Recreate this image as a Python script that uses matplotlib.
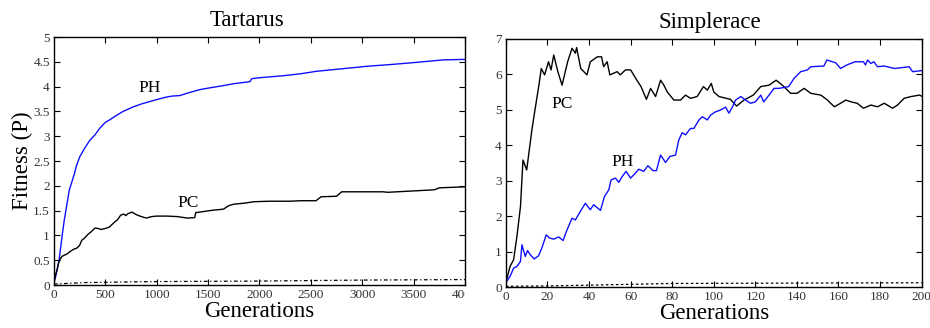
import numpy as np
import matplotlib.pyplot as plt
from matplotlib.ticker import FormatStrFormatter
from matplotlib.transforms import Bbox, TransformedBbox

plt.rcParams['font.family'] = ['Liberation Serif', 'DejaVu Serif']

# Tartarus data (generation, fitness)
tart_ph_gen = [0, 10, 20, 35, 50, 65, 80, 100, 120, 150, 170, 200, 217, 250, 299, 350, 400, 445,
               500, 542, 600, 672, 769, 850, 932, 1000, 1094, 1150, 1224, 1300, 1419, 1500, 1646,
               1750, 1906, 1925, 2000, 2231, 2400, 2555, 2800, 3042, 3300, 3529, 3789, 4000]
tart_ph_val = [0.05, 0.12, 0.2, 0.35, 0.5, 0.75, 1.0, 1.3, 1.55, 1.92, 2.05, 2.25, 2.39, 2.58, 2.76,
               2.92, 3.03, 3.16, 3.28, 3.33, 3.41, 3.5, 3.59, 3.65, 3.70, 3.74, 3.79, 3.81, 3.82,
               3.87, 3.94, 3.97, 4.02, 4.06, 4.10, 4.16, 4.18, 4.22, 4.26, 4.31, 4.36, 4.41, 4.45,
               4.49, 4.54, 4.55]

tart_pc_gen = [0, 15, 30, 45, 60, 80, 100, 130, 160, 200, 220, 250, 270, 300, 330, 360, 400, 430,
               460, 500, 540, 580, 620, 650, 680, 700, 720, 760, 800, 850, 900, 950, 1000, 1100,
               1200, 1300, 1370, 1380, 1450, 1550, 1650, 1700, 1750, 1850, 1950, 2100, 2300, 2400,
               2550, 2600, 2750, 2800, 3200, 3250, 3700, 3750, 4000]
tart_pc_val = [0.05, 0.2, 0.3, 0.45, 0.52, 0.58, 0.6, 0.63, 0.68, 0.73, 0.74, 0.8, 0.9, 0.95, 1.02,
               1.07, 1.15, 1.14, 1.12, 1.14, 1.17, 1.25, 1.32, 1.41, 1.43, 1.4, 1.44, 1.47, 1.42,
               1.38, 1.35, 1.38, 1.39, 1.39, 1.38, 1.35, 1.36, 1.46, 1.48, 1.51, 1.53, 1.6, 1.63,
               1.65, 1.68, 1.69, 1.69, 1.7, 1.7, 1.78, 1.79, 1.88, 1.88, 1.87, 1.92, 1.96, 1.98]

tart_rand_gen = [0, 300, 1000, 2000, 3000, 4000]
tart_rand_val = [0.02, 0.05, 0.07, 0.08, 0.1, 0.11]

# Simplerace data (generation, fitness)
simp_pc_gen = [0, 2, 3.7, 5.3, 7, 8.2, 10, 12.5, 14, 16, 17, 18.6, 20.5, 21.7, 23, 25, 27, 29.7,
               31.8, 33.4, 34, 36, 39, 40.6, 44, 46, 47, 48.7, 50, 53.5, 55, 57.5, 60, 63, 65,
               67.6, 69.6, 72, 74.4, 76, 77.6, 80.8, 84, 86.4, 88.8, 92, 95, 96.9, 98.8, 100,
               102.5, 108, 111, 114.5, 119, 122.6, 126.6, 130, 133, 137, 140, 143.5, 146.7, 151.5,
               154.7, 158, 161, 163.5, 166, 169, 172, 175.6, 178.8, 182, 186, 188.4, 191.6, 195,
               199, 200]
simp_pc_val = [0.13, 0.58, 0.77, 1.43, 2.27, 3.58, 3.3, 4.43, 5.0, 5.74, 6.16, 5.98, 6.35, 6.12,
               6.54, 6.07, 5.69, 6.35, 6.73, 6.59, 6.75, 6.16, 5.98, 6.35, 6.49, 6.49, 6.21, 6.35,
               5.98, 6.07, 5.98, 6.12, 6.12, 5.83, 5.65, 5.29, 5.6, 5.37, 5.83, 5.69, 5.5, 5.27,
               5.27, 5.41, 5.32, 5.37, 5.65, 5.55, 5.74, 5.5, 5.37, 5.29, 5.1, 5.27, 5.41, 5.65,
               5.69, 5.83, 5.69, 5.46, 5.46, 5.6, 5.46, 5.41, 5.27, 5.08, 5.18, 5.27, 5.22, 5.18,
               5.04, 5.13, 5.08, 5.18, 5.04, 5.13, 5.32, 5.37, 5.41, 5.38]

simp_ph_gen = [0, 2, 3.7, 5.3, 7, 7.7, 9.3, 10.4, 11.7, 13.6, 15.7, 17.3, 19.4, 21, 23, 25.4, 27.5,
               29.4, 31.8, 33.4, 35.8, 38.2, 40.6, 42.2, 45.5, 47.4, 49.5, 50.6, 52.7, 54.3, 55.9,
               57.8, 60, 62.3, 63.9, 66.3, 68.3, 70.8, 72.4, 74.4, 76.8, 78.9, 81.6, 83.2, 84.8,
               86.4, 88.8, 90.4, 92.9, 94.5, 96.9, 98.5, 100.9, 103.3, 105.7, 107.3, 109, 110.5,
               113, 115.3, 117.7, 120, 122.6, 124, 126.6, 129, 131.4, 136, 138.6, 141.8, 145,
               146.7, 153, 154.4, 158.7, 161, 164, 168, 172, 173, 174, 175.6, 177, 178.8, 182,
               187, 194, 195.7, 200]
simp_ph_val = [0.13, 0.3, 0.53, 0.58, 0.72, 1.19, 0.86, 1.03, 0.91, 0.79, 0.88, 1.1, 1.47, 1.38,
               1.35, 1.41, 1.31, 1.61, 1.94, 1.89, 2.13, 2.36, 2.18, 2.32, 2.16, 2.55, 2.74, 3.02,
               3.07, 2.95, 3.11, 3.26, 3.07, 3.21, 3.32, 3.26, 3.42, 3.28, 3.28, 3.72, 3.51, 3.68,
               3.72, 4.15, 4.35, 4.29, 4.47, 4.47, 4.71, 4.8, 4.71, 4.85, 4.94, 4.99, 5.07, 4.9,
               5.08, 5.27, 5.37, 5.27, 5.18, 5.22, 5.41, 5.22, 5.41, 5.6, 5.6, 5.65, 5.88, 6.07,
               6.12, 6.21, 6.23, 6.4, 6.32, 6.16, 6.26, 6.35, 6.35, 6.26, 6.4, 6.3, 6.35, 6.21,
               6.23, 6.16, 6.21, 6.07, 6.1]

simp_rand_gen = [0, 20, 55, 80, 140, 200]
simp_rand_val = [0.02, 0.03, 0.07, 0.1, 0.11, 0.12]

blue = '#0f0fff'

fig = plt.figure(figsize=(9.3, 3.28), dpi=100)
ax1 = fig.add_axes([0.058, 0.131, 0.442, 0.756])
ax2 = fig.add_axes([0.544, 0.125, 0.447, 0.757])


def style(ax):
    ax.tick_params(direction='in', top=True, right=True, length=4, width=0.8,
                   labelsize=9.5, labelcolor='#333333', pad=3)
    for s in ax.spines.values():
        s.set_linewidth(1.0)


ax1.plot(tart_ph_gen, tart_ph_val, color=blue, lw=1)
ax1.plot(tart_pc_gen, tart_pc_val, color='black', lw=1)
ax1.plot(tart_rand_gen, tart_rand_val, color='black', lw=0.9, ls=(0, (3, 2, 1, 2)))
ax1.set_xlim(0, 4000)
ax1.set_ylim(0, 5)
ax1.set_xticks(np.arange(0, 4001, 500))
ax1.set_yticks(np.arange(0, 5.01, 0.5))
ax1.yaxis.set_major_formatter(FormatStrFormatter('%g'))
style(ax1)
ax1.text(820, 3.9, 'PH', fontsize=12.5)
ax1.text(1200, 1.58, 'PC', fontsize=12.5)
ax1.set_title('Tartarus', fontsize=16.5, x=0.47, pad=8)
ax1.set_xlabel('Generations', fontsize=16.5, labelpad=0)
ax1.set_ylabel('Fitness (P)', fontsize=16.5, labelpad=0)

# the original image cuts the left panel's last tick label at the panel edge
clip = TransformedBbox(Bbox([[0, 0], [0.5, 1]]), fig.transFigure)
for lab in ax1.get_xticklabels():
    lab.set_clip_box(clip)
    lab.set_clip_on(True)

ax2.plot(simp_pc_gen, simp_pc_val, color='black', lw=1)
ax2.plot(simp_ph_gen, simp_ph_val, color=blue, lw=1)
ax2.plot(simp_rand_gen, simp_rand_val, color='black', lw=0.9, ls=(0, (2, 2)))
ax2.set_xlim(0, 200)
ax2.set_ylim(0, 7)
ax2.set_xticks(np.arange(0, 201, 20))
ax2.set_yticks(np.arange(0, 8, 1))
style(ax2)
ax2.text(22, 5.05, 'PC', fontsize=12.5)
ax2.text(51, 3.4, 'PH', fontsize=12.5)
ax2.set_title('Simplerace', fontsize=16.5, x=0.49, pad=8)
ax2.set_xlabel('Generations', fontsize=16.5, labelpad=0)

fig.savefig('out.png', dpi=100)
